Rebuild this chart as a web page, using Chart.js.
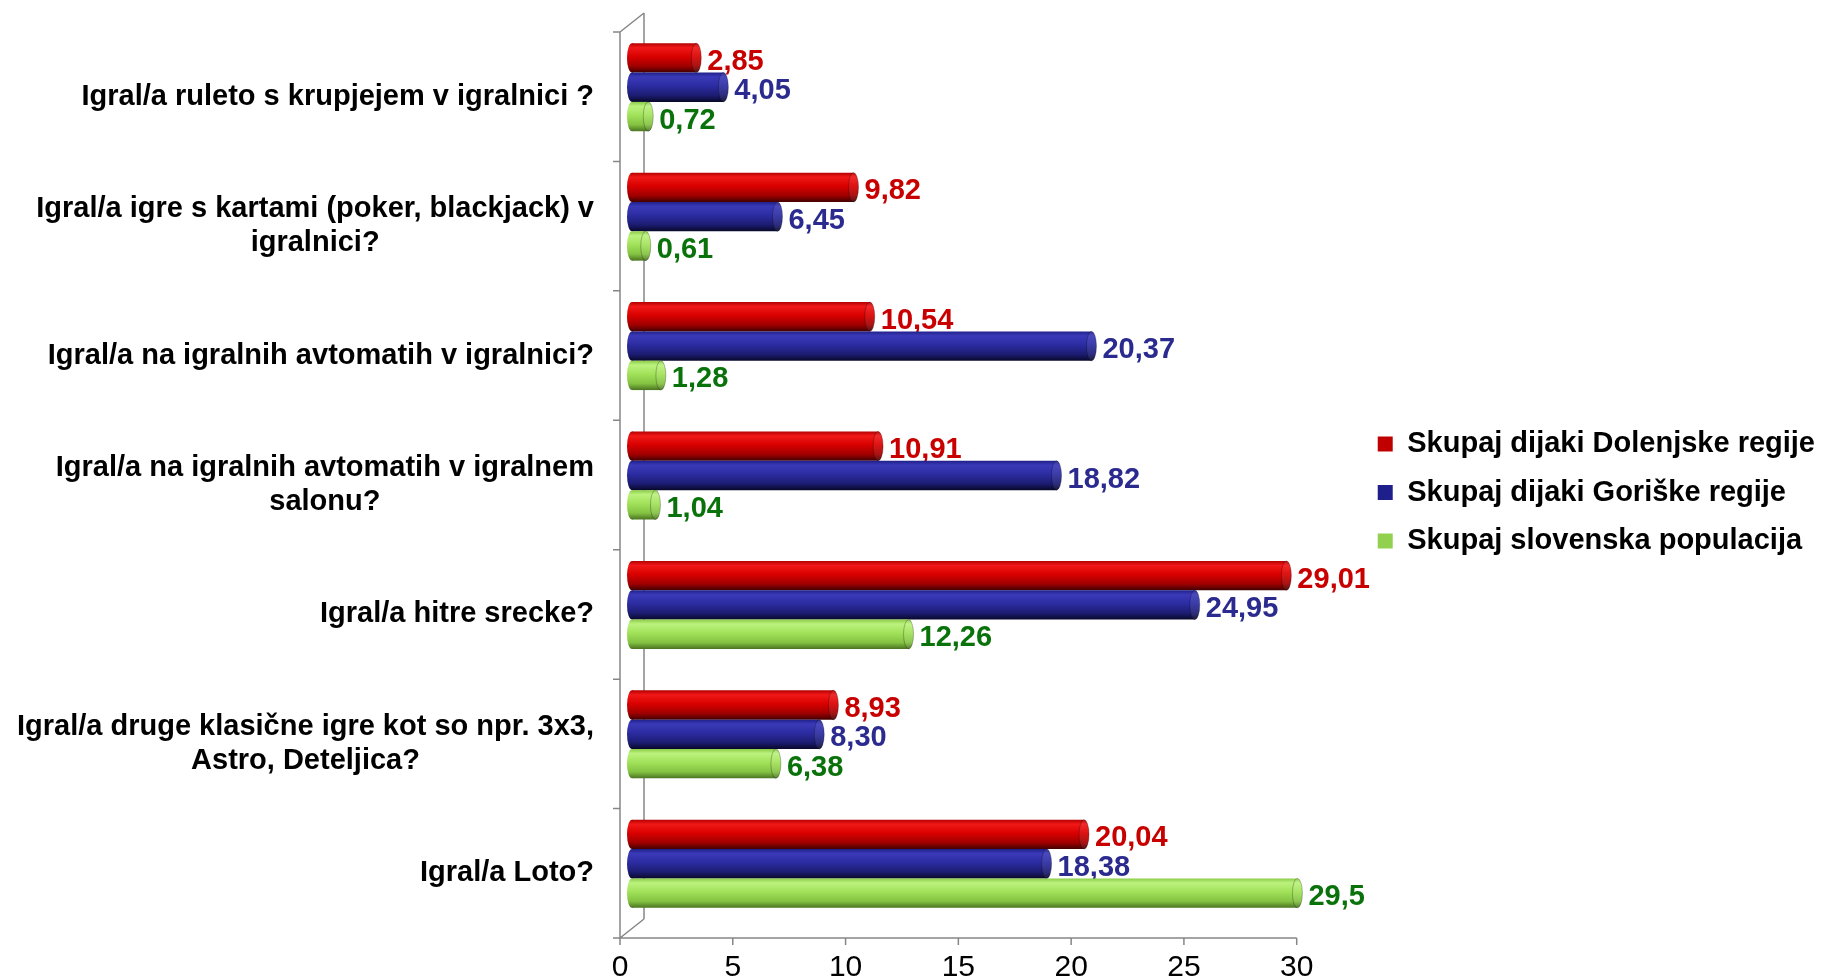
<!DOCTYPE html>
<html>
<head>
<meta charset="utf-8">
<title>Igre na srečo</title>
<script src="https://cdn.jsdelivr.net/npm/chart.js"></script>
<style>
  html, body { margin: 0; padding: 0; background: #ffffff; }
  #chart { display: block; }
</style>
</head>
<body>
<canvas id="chart" width="1825" height="980"></canvas>
<script>
// ---- data -------------------------------------------------------------
const categories = [
  'Igral/a ruleto s krupjejem v igralnici ?',
  ['Igral/a igre s kartami (poker, blackjack) v', 'igralnici?'],
  'Igral/a na igralnih avtomatih v igralnici?',
  ['Igral/a na igralnih avtomatih v igralnem', 'salonu?'],
  'Igral/a hitre srecke?',
  ['Igral/a druge klasične igre kot so npr. 3x3,', 'Astro, Deteljica?'],
  'Igral/a Loto?'
];
const seriesNames = [
  'Skupaj dijaki Dolenjske regije',
  'Skupaj dijaki Goriške regije',
  'Skupaj slovenska populacija'
];
const dolenjskaValues = [2.85, 9.82, 10.54, 10.91, 29.01, 8.93, 20.04];
const goriskaValues   = [4.05, 6.45, 20.37, 18.82, 24.95, 8.30, 18.38];
const slovenijaValues = [0.72, 0.61, 1.28, 1.04, 12.26, 6.38, 29.5];
const xTickValues = [0, 5, 10, 15, 20, 25, 30];
// decimals shown in the value labels (null = as entered)
const valueDecimals = [2, 2, null];

const seriesValues = [dolenjskaValues, goriskaValues, slovenijaValues];

// ---- layout & style ---------------------------------------------------
const PLOT = { left: 632, right: 1308.7, top: 22.5, bottom: 928.5 }; // mid-depth plane of the bars
const DEPTH = { dx: 24, dy: 19 };        // wall depth of the 3-D frame
const PAD = { top: 5, right: 0, bottom: 0, left: 0 };
const CATEGORY_PCT = 0.68;
const CAP_RX = 5;
const TICK = 7;
const LABEL_GAP = 11;
const LABEL_DROP = 4;
const CAT_LABEL_GAP = 26;
const CAT_LINE_H = 34.5;
const AXIS_COLOR = '#868686';
const FONT_FAMILY = '"Liberation Sans", Arial, sans-serif';
const NARROW_FAMILY = '"Liberation Sans Narrow", "Liberation Sans", Arial, sans-serif';
const X_TICK_FONT = 30;
const X_TICK_CENTER = 968;

const SERIES_STYLE = [
  { legend: '#C00000', label: '#C80000',
    stops: [[0, '#b40000'], [0.15, '#f01818'], [0.45, '#da0000'], [0.78, '#a00000'], [1, '#420000']] },
  { legend: '#1F1F8C', label: '#2B2B8F',
    stops: [[0, '#20208a'], [0.15, '#3a3ab8'], [0.45, '#2c2ca2'], [0.78, '#1c1c72'], [1, '#08082a']] },
  { legend: '#92D050', label: '#0A720A',
    stops: [[0, '#8ccc48'], [0.15, '#bbf27e'], [0.45, '#a2e25a'], [0.78, '#84c242'], [1, '#4a7420']] }
];

// ---- helpers ----------------------------------------------------------
function formatValue(v, decimals) {
  const s = decimals == null ? String(v) : v.toFixed(decimals);
  return s.replace('.', ',');
}

function bandOf(chart, di, i) {
  const ys = chart.scales.y;
  const catH = (ys.bottom - ys.top) / categories.length;
  const groupH = catH * CATEGORY_PCT;
  const barH = groupH / seriesValues.length;
  const top = ys.getPixelForValue(i) - groupH / 2 + di * barH;
  return [top, top + barH];
}

// vertical shading that makes each bar read as a cylinder
function cylinderFill(c) {
  const st = SERIES_STYLE[c.datasetIndex];
  const chart = c.chart;
  if (c.dataIndex === undefined || !chart.chartArea || !chart.scales.y) return st.legend;
  const [t, b] = bandOf(chart, c.datasetIndex, c.dataIndex);
  const g = chart.ctx.createLinearGradient(0, t, 0, b);
  st.stops.forEach(([o, col]) => g.addColorStop(o, col));
  return g;
}

function drawCap(ctx, cx, el, front) {
  const ry = el.height / 2;
  ctx.save();
  ctx.beginPath();
  ctx.ellipse(cx, el.y, CAP_RX, ry, 0, 0, Math.PI * 2);
  ctx.fillStyle = el.options.backgroundColor;
  ctx.fill();
  if (front) {
    ctx.fillStyle = 'rgba(255,255,255,0.08)';
    ctx.fill();
    ctx.strokeStyle = 'rgba(0,0,0,0.25)';
    ctx.lineWidth = 1;
    ctx.stroke();
  }
  ctx.restore();
}

function drawValueLabels(ctx, meta, di) {
  ctx.save();
  ctx.font = 'bold 29px ' + FONT_FAMILY;
  ctx.fillStyle = SERIES_STYLE[di].label;
  ctx.textAlign = 'left';
  ctx.textBaseline = 'middle';
  meta.data.forEach((el, i) => {
    ctx.fillText(formatValue(seriesValues[di][i], valueDecimals[di]), el.x + LABEL_GAP, el.y + LABEL_DROP);
  });
  ctx.restore();
}

// ---- plugins ----------------------------------------------------------
const depthFramePlugin = {
  id: 'depthFrame',
  beforeDatasetsDraw(chart) {
    const ctx = chart.ctx;
    const xs = chart.scales.x, ys = chart.scales.y;
    const hx = DEPTH.dx / 2, hy = DEPTH.dy / 2;
    const fx0 = xs.getPixelForValue(xTickValues[0]) - hx;
    const fx1 = xs.getPixelForValue(xTickValues[xTickValues.length - 1]) - hx;
    const fyT = ys.top + hy, fyB = ys.bottom + hy;
    const catH = (ys.bottom - ys.top) / categories.length;

    ctx.save();
    ctx.strokeStyle = AXIS_COLOR;
    ctx.lineWidth = 1.5;
    ctx.beginPath();
    // back wall edge
    ctx.moveTo(fx0 + DEPTH.dx, fyT - DEPTH.dy); ctx.lineTo(fx0 + DEPTH.dx, fyB - DEPTH.dy);
    // front edge of the wall
    ctx.moveTo(fx0, fyT); ctx.lineTo(fx0, fyB);
    // top and bottom depth edges
    ctx.moveTo(fx0, fyT); ctx.lineTo(fx0 + DEPTH.dx, fyT - DEPTH.dy);
    ctx.moveTo(fx0, fyB); ctx.lineTo(fx0 + DEPTH.dx, fyB - DEPTH.dy);
    // floor edge with value ticks
    ctx.moveTo(fx0 - TICK, fyB); ctx.lineTo(fx1, fyB);
    xTickValues.forEach(v => {
      const px = xs.getPixelForValue(v) - hx;
      ctx.moveTo(px, fyB); ctx.lineTo(px, fyB + TICK);
    });
    // category separators
    for (let k = 0; k < categories.length; k++) {
      const yy = ys.top + k * catH + hy;
      ctx.moveTo(fx0 - TICK, yy); ctx.lineTo(fx0, yy);
    }
    ctx.stroke();
    ctx.restore();

    // back ends of the cylinders, then each series top to bottom with its labels
    const metas = seriesValues.map((_, i) => chart.getDatasetMeta(i));
    metas.forEach(meta => meta.data.forEach(el => drawCap(ctx, el.base, el, false)));
    metas.forEach((meta, di) => {
      meta.controller.draw();
      meta.data.forEach(el => drawCap(ctx, el.x, el, true));
      drawValueLabels(ctx, meta, di);
    });
    return false;
  }
};

const categoryLabelPlugin = {
  id: 'categoryLabels',
  afterDraw(chart) {
    const ctx = chart.ctx;
    const xs = chart.scales.x, ys = chart.scales.y;
    const right = xs.getPixelForValue(xTickValues[0]) - DEPTH.dx / 2 - CAT_LABEL_GAP;
    ctx.save();
    ctx.font = 'bold 29px ' + FONT_FAMILY;
    ctx.fillStyle = '#000000';
    ctx.textAlign = 'center';
    ctx.textBaseline = 'middle';
    categories.forEach((lab, i) => {
      const lines = Array.isArray(lab) ? lab : [lab];
      const w = Math.max(...lines.map(l => ctx.measureText(l).width));
      const cx = right - w / 2;
      const cy = ys.getPixelForValue(i) + DEPTH.dy / 2;
      lines.forEach((l, k) => ctx.fillText(l, cx, cy + (k - (lines.length - 1) / 2) * CAT_LINE_H));
    });
    ctx.restore();
  }
};

// ---- chart ------------------------------------------------------------
new Chart(document.getElementById('chart'), {
  type: 'bar',
  data: {
    labels: categories,
    datasets: seriesValues.map((vals, di) => ({
      label: seriesNames[di],
      data: vals,
      backgroundColor: cylinderFill,
      borderWidth: 0,
      borderSkipped: false,
      categoryPercentage: CATEGORY_PCT,
      barPercentage: 1
    }))
  },
  options: {
    indexAxis: 'y',
    responsive: false,
    animation: false,
    events: [],
    layout: { padding: PAD },
    plugins: {
      tooltip: { enabled: false },
      legend: {
        position: 'right',
        align: 'center',
        maxWidth: 900,
        labels: {
          boxWidth: 15,
          boxHeight: 15,
          padding: 19.5,
          color: '#000000',
          font: { family: FONT_FAMILY, size: 29, weight: 'bold' },
          generateLabels: (chart) => chart.data.datasets.map((ds, i) => ({
            text: ds.label,
            fillStyle: SERIES_STYLE[i].legend,
            strokeStyle: SERIES_STYLE[i].legend,
            lineWidth: 0,
            hidden: !chart.isDatasetVisible(i),
            datasetIndex: i,
            fontColor: '#000000'
          }))
        }
      }
    },
    scales: {
      x: {
        type: 'linear',
        position: 'bottom',
        min: xTickValues[0],
        max: xTickValues[xTickValues.length - 1],
        grid: { display: false, drawTicks: false },
        border: { display: false },
        ticks: {
          stepSize: xTickValues[1] - xTickValues[0],
          labelOffset: -DEPTH.dx / 2,
          padding: X_TICK_CENTER - PLOT.bottom - X_TICK_FONT * 0.6,
          color: '#000000',
          maxRotation: 0,
          autoSkip: false,
          font: { family: NARROW_FAMILY, size: X_TICK_FONT }
        },
        afterFit: s => { s.height = s.chart.height - PLOT.bottom - PAD.bottom; }
      },
      y: {
        type: 'category',
        position: 'left',
        display: false,
        afterFit: s => { s.width = PLOT.left - PAD.left; }
      },
      topSpace: {
        type: 'linear',
        position: 'top',
        display: false,
        afterFit: s => { s.height = PLOT.top - PAD.top; }
      },
      legendGap: {
        type: 'linear',
        position: 'right',
        display: false,
        afterFit: s => { s.width = s.chart.width - PAD.right - s.chart.legend.width - PLOT.right; }
      }
    }
  },
  plugins: [depthFramePlugin, categoryLabelPlugin]
});
</script>
</body>
</html>
